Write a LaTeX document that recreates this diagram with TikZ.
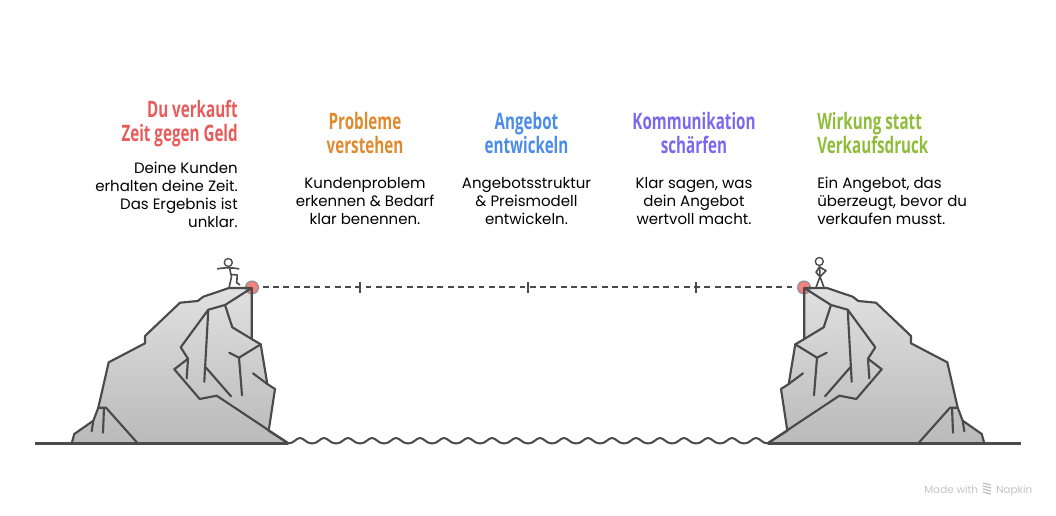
\documentclass[tikz,border=0pt]{standalone}
\usepackage{fontspec}
\setmainfont{Poppins}
\newfontfamily\headfont[FakeStretch=0.67,BoldFont={Open Sans Bold}]{Open Sans}
\usetikzlibrary{positioning}

\definecolor{rockline}{HTML}{4A4A4A}
\definecolor{rocktop}{HTML}{E0E0E0}
\definecolor{rockbottom}{HTML}{BABABA}
\definecolor{dotred}{HTML}{F88080}
\definecolor{headred}{HTML}{E85B5B}
\definecolor{headorange}{HTML}{E08A30}
\definecolor{headblue}{HTML}{4A8CE8}
\definecolor{headpurple}{HTML}{7B68EE}
\definecolor{headgreen}{HTML}{8FBC3A}
\definecolor{brandgray}{HTML}{C4C4C4}

\tikzset{
    headline/.style = {font=\headfont\bfseries\fontsize{17}{18}\selectfont, inner sep=0},
    bodytext/.style = {font=\fontsize{11.25}{13.5}\selectfont, text=black, inner sep=0},
    rockstroke/.style = {draw=rockline, line width=1.6pt, line join=round, line cap=round},
    rockfill/.style = {top color=rocktop, bottom color=rockbottom, draw=none},
    endpoint/.style = {circle, fill=dotred, draw=rockline!60, line width=1pt, minimum size=9.5pt, inner sep=0},
    bridgeline/.style = {draw=rockline, line width=1.5pt, dash pattern=on 4.4pt off 3.3pt},
    brandtext/.style = {font=\fontsize{7.8}{10}\selectfont, text=brandgray, inner sep=0}
}

\newcommand{\rockoutline}{(71.7,443.3) -- (74.3,434) -- (93.3,420.7) -- (98.3,407.7) -- (108.7,362.3)
    -- (145,343.3) -- (145,336) -- (180,302.7) -- (197.7,301) -- (203.3,296.7) -- (229,288) -- (251.7,288)
    -- (251.7,339) -- (260.7,344.3) -- (267.3,384) -- (275,389) -- (268.7,430.7) -- (288.3,443.3)}

\newcommand{\rocklines}{
    \draw[rockstroke] \rockoutline;
    % big cliff face
    \draw[rockstroke] (251.7,288) -- (225,305) -- (208.3,309.7) -- (180.7,347.3) -- (188,358.7)
        -- (174.3,369.3) -- (199.7,399) -- (216.7,395.7) -- (288.3,443.3);
    \draw[rockstroke] (225,305) -- (232.3,327.3) -- (251.7,339);
    \draw[rockstroke] (208.3,309.7) -- (204.3,381.7);
    \draw[rockstroke] (188,358.7) -- (186.7,378.3);
    \draw[rockstroke] (205.7,367.3) -- (231,396.3);
    \draw[rockstroke] (260.7,344.3) -- (239,357.7) -- (229.3,352.7);
    \draw[rockstroke] (239,357.7) -- (242,395.3);
    \draw[rockstroke] (253,373.3) -- (267.3,384);
    % small rock
    \draw[rockstroke] (93.3,420.7) -- (91.7,431.3);
    \draw[rockstroke] (98.3,407.7) -- (106,407.7) -- (137.7,443.3);
    \draw[rockstroke] (104,407.7) -- (103,432.7);
}

\begin{document}
\begin{tikzpicture}[x=0.75pt, y=-0.75pt]
    \useasboundingbox (0,0) rectangle (1056,516);

    % rocks
    \fill[rockfill] \rockoutline -- cycle;
    \begin{scope}[shift={(1056,0)}, xscale=-1]
        \fill[rockfill] \rockoutline -- cycle;
    \end{scope}

    \node[endpoint] (StartDot) at (252,287.5) {};
    \node[endpoint] (EndDot) at (804,287.5) {};

    \rocklines
    \begin{scope}[shift={(1056,0)}, xscale=-1]
        \rocklines
    \end{scope}

    % ground
    \coordinate (GroundA) at (35,443.5);
    \coordinate (GroundB) at (288,443.5);
    \coordinate (GroundC) at (768,443.5);
    \coordinate (GroundD) at (1021,443.5);
    \draw[rockstroke, line cap=butt] (GroundA) -- (GroundB);
    \draw[rockstroke, line cap=butt] (GroundC) -- (GroundD);
    \foreach \x in {288,312,...,744}{
        \draw[rockline, line width=1.5pt] (\x,443.5) .. controls (\x+6,443.5) and (\x+8,438) .. (\x+12,438)
            .. controls (\x+16,438) and (\x+18,443.5) .. (\x+24,443.5);
    }

    % bridge
    \draw[bridgeline, shorten <=8.2pt, shorten >=8.2pt] (StartDot.center) -- (EndDot.center);
    \foreach \x/\name in {360/TickA, 528/TickB, 696/TickC}{
        \coordinate (\name top) at (\x,282.5);
        \coordinate (\name bottom) at (\x,293.5);
        \draw[rockline, line width=1.5pt] (\name top) -- (\name bottom);
    }

    % left person
    \node[circle, draw=rockline, line width=1pt, minimum size=6pt, inner sep=0] (HeadL) at (228.3,262.5) {};
    \draw[rockline, line width=1.2pt, line join=round] (HeadL) -- (231.5,276.7) -- (229,288);
    \draw[rockline, line width=1.2pt] (217.3,269) .. controls (222,267.5) and (234,267.5) .. (239.3,269);
    \draw[rockline, line width=1.2pt, line join=round] (231.5,274.5) -- (237.3,275) -- (236.7,282.7) -- (240,285);

    % right person
    \node[circle, draw=rockline, line width=1pt, minimum size=6pt, inner sep=0] (HeadR) at (819.3,261.5) {};
    \draw[rockline, line width=1.2pt, line join=round] (HeadR) -- (820,276.7) -- (816,287.5);
    \draw[rockline, line width=1.2pt] (820,276.7) -- (824,287.5);
    \draw[rockline, line width=1.2pt, line join=round] (819.5,267) -- (816,272.3) -- (820,276.7) -- (826,270.7) -- (819.5,267);

    % headlines and texts
    \node[headline, text=headred, align=right, anchor=north east] (TitleA) at (238,100) {Du verkauft\\Zeit gegen Geld};
    \node[bodytext, align=right, below=10.6pt of TitleA.south east, anchor=north east] (TextA) {Deine Kunden\\erhalten deine Zeit.\\Das Ergebnis ist\\unklar.};

    \node[headline, text=headorange, align=center, anchor=north] (TitleB) at (365,112) {Probleme\\verstehen};
    \node[bodytext, align=center, below=17pt of TitleB] (TextB) {Kundenproblem\\erkennen \& Bedarf\\klar benennen.};

    \node[headline, text=headblue, align=center, anchor=north] (TitleC) at (526.5,112) {Angebot\\entwickeln};
    \node[bodytext, align=center, below=17pt of TitleC] (TextC) {Angebotsstruktur\\\& Preismodell\\entwickeln.};

    \node[headline, text=headpurple, align=center, anchor=north] (TitleD) at (694,112) {Kommunikation\\schärfen};
    \node[bodytext, align=center, below=17pt of TitleD] (TextD) {Klar sagen, was\\dein Angebot\\wertvoll macht.};

    \node[headline, text=headgreen, align=left, anchor=north west] (TitleE) at (817,112) {Wirkung statt\\Verkaufsdruck};
    \node[bodytext, align=left, below=17pt of TitleE.south west, anchor=north west] (TextE) {Ein Angebot, das\\überzeugt, bevor du\\verkaufen musst.};

    % brand
    \node[brandtext, anchor=base west] (MadeWith) at (924,493) {Made with};
    \node[brandtext, anchor=base west] (Napkin) at (996,493) {Napkin};
    \foreach \y in {485,488,491,494}{
        \draw[brandgray, line width=1pt] (983,\y-2) -- (991,\y);
    }
\end{tikzpicture}
\end{document}
